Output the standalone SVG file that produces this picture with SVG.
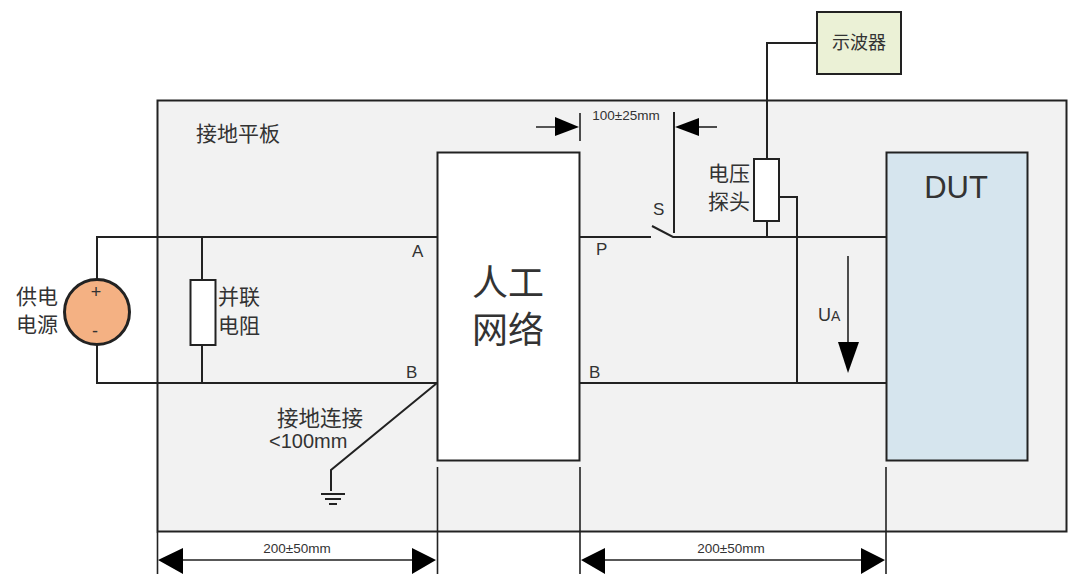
<svg xmlns="http://www.w3.org/2000/svg" width="1080" height="581" viewBox="0 0 1080 581">
<style>
.w{fill:none;stroke:#222;stroke-width:2}
.t{stroke:#222;stroke-width:1.6;fill:none}
.box{stroke:#222;stroke-width:2}
.h{fill:#000;stroke:none}
text{font-family:"Noto Sans CJK SC","Liberation Sans",sans-serif;fill:#333}
.l{font-family:"Liberation Sans",sans-serif}
.d{font-family:"Liberation Sans",sans-serif;font-size:13.500px;text-anchor:middle}
</style>
<rect width="1080" height="581" fill="#fff"/>
<g id="ground-plane"><rect x="157.500" y="100.500" width="909" height="431" fill="#f2f2f2" class="box"/><text x="196" y="141" font-size="21">接地平板</text></g>
<g id="connectors">
<path class="w" d="M97 280V237H437M97 344V383H437M202 237V281M202 345V383"/>
<path class="w" d="M580 237H651M652 226L673 237H889M580 383H886M767 159V43H817M767 221V237M779 197H797V383"/>
<path class="w" d="M437 383L331 470V491"/>
<path class="w" d="M321 494H345M325 499H341M329 504H337"/>
<path class="w" d="M674 112V233"/>
</g>
<g id="dimensions">
<path class="t" d="M580 113V141M536 127H555"/>
<path class="h" d="M555 117L579 127L555 136Z"/>
<path class="t" d="M717 127H698"/>
<path class="h" d="M699 118L675 127L699 136Z"/>
<path class="t" d="M157.500 532V574M437.500 467V574M580 467V574M886 467V574M180 560H416M602 560H866"/>
<path class="h" d="M158 560L183 548V574ZM436 560L412 548V574ZM581 560L605 548V574ZM885 560L861 548V574Z"/>
<text class="d" x="626" y="120">100±25mm</text>
<text class="d" x="297" y="553">200±50mm</text>
<text class="d" x="731" y="553">200±50mm</text>
</g>
<g id="network"><rect x="437.500" y="152.500" width="142" height="308" fill="#fff" class="box"/><text x="508" y="296" font-size="36" text-anchor="middle">人工</text><text x="508" y="343" font-size="36" text-anchor="middle">网络</text></g>
<g id="dut"><rect x="886.500" y="152.500" width="141" height="308" fill="#d6e5ee" class="box"/><text class="l" x="956" y="198" font-size="31" text-anchor="middle">DUT</text></g>
<g id="scope"><rect x="817" y="12" width="84" height="62" fill="#ebf1d6" class="box"/><text x="859" y="49" font-size="18" text-anchor="middle">示波器</text></g>
<g id="probe"><rect x="754" y="159" width="25" height="62" fill="#fff" class="box"/><text x="729" y="181" font-size="21" text-anchor="middle">电压</text><text x="729" y="209" font-size="21" text-anchor="middle">探头</text></g>
<g id="source"><circle cx="97" cy="312" r="32.500" fill="#f4b183" stroke="#222" stroke-width="3"/><text class="l" x="96" y="298" font-size="18" text-anchor="middle">+</text><text class="l" x="95" y="337" font-size="18" text-anchor="middle">-</text><text x="37" y="304" font-size="21" text-anchor="middle">供电</text><text x="37" y="332" font-size="21" text-anchor="middle">电源</text></g>
<g id="shunt"><rect x="190.500" y="280" width="25" height="65" fill="#fff" class="box"/><text x="239" y="304" font-size="21" text-anchor="middle">并联</text><text x="239" y="333" font-size="21" text-anchor="middle">电阻</text></g>
<g id="labels">
<text class="l" x="412" y="257" font-size="17">A</text>
<text class="l" x="406" y="378" font-size="17">B</text>
<text class="l" x="596" y="255" font-size="17">P</text>
<text class="l" x="589" y="378" font-size="17">B</text>
<text class="l" x="653" y="215" font-size="17">S</text>
<text x="320" y="426" font-size="21.500" text-anchor="middle">接地连接</text>
<text class="l" x="269" y="448" font-size="20">&lt;100mm</text>
<text class="l" x="818" y="321" font-size="18">U<tspan font-size="14">A</tspan></text>
<path class="t" d="M848 256V345"/>
<path class="h" d="M838 342H859L848 373Z"/>
</g>
</svg>
